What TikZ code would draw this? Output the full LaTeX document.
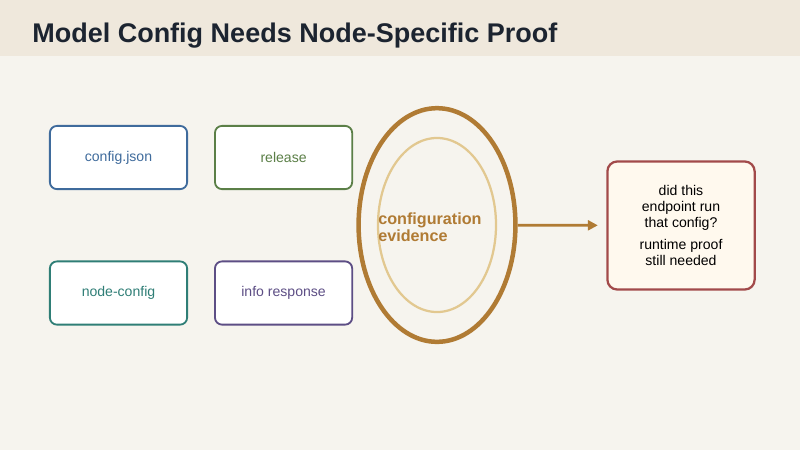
\documentclass[tikz,border=0pt]{standalone}
\usepackage{fontspec}
\setmainfont{Liberation Sans}
\usepackage{tikz}
\usetikzlibrary{shapes.geometric, arrows.meta, positioning}
\definecolor{pagebg}{HTML}{F6F4EE}
\definecolor{headbg}{HTML}{EFE8DC}
\definecolor{titleink}{HTML}{1C2430}
\definecolor{cfgblue}{HTML}{3F6B9C}
\definecolor{relgreen}{HTML}{5B7F47}
\definecolor{nodeteal}{HTML}{2F7E76}
\definecolor{infopurple}{HTML}{5D4E85}
\definecolor{evgold}{HTML}{B07B34}
\definecolor{evtan}{HTML}{E2C890}
\definecolor{proofred}{HTML}{A24A4A}
\definecolor{prooffill}{HTML}{FFF9EE}
\tikzstyle{source} = [rectangle, rounded corners=5pt, minimum width=3.43cm, minimum height=1.58cm, text centered, fill=white, line width=1.3pt, font=\fontsize{10}{12}\selectfont]
\tikzstyle{arrow} = [line width=2pt, evgold, -{Triangle[length=7pt, width=7pt]}, shorten >=6pt]

\begin{document}
\begin{tikzpicture}[x=0.025cm, y=-0.025cm]
        \fill [pagebg] (0,0) rectangle (800,450);
        \fill [headbg] (0,0) rectangle (800,56);
        \node (title) [anchor=base west, inner sep=0pt, text=titleink, font=\fontsize{19.2}{23}\selectfont\bfseries] at (32,42) {Model Config Needs Node-Specific Proof};

        \node (config) [source, draw=cfgblue, text=cfgblue] at (118.5,157.5) {config.json};
        \node (release) [source, draw=relgreen, text=relgreen, right=0.65cm of config] {release};
        \node (nodecfg) [source, draw=nodeteal, text=nodeteal] at (118.5,293) {node-config};
        \node (info) [source, draw=infopurple, text=infopurple, right=0.65cm of nodecfg] {info response};

        \node (evidence) [ellipse, draw=evgold, line width=3.2pt, minimum width=3.92cm, minimum height=5.84cm] at (437,225) {};
        \node (inner) [ellipse, draw=evtan, line width=1.6pt, minimum width=2.95cm, minimum height=4.35cm] at (437,225) {};
        \node (evtext) [anchor=west, inner sep=0pt, align=left, text=evgold, font=\fontsize{11.5}{12.3}\selectfont\bfseries] at (378,227) {configuration\\evidence};

        \node (proof) [rectangle, rounded corners=7pt, draw=proofred, fill=prooffill, line width=1.6pt, minimum width=3.68cm, minimum height=3.2cm, align=center, font=\fontsize{10}{11.6}\selectfont] at (681,225.5) {did this\\endpoint run\\that config?\\[4pt]runtime proof\\still needed};

        \draw [arrow] (evidence) -- (proof);
    \end{tikzpicture}
\end{document}
